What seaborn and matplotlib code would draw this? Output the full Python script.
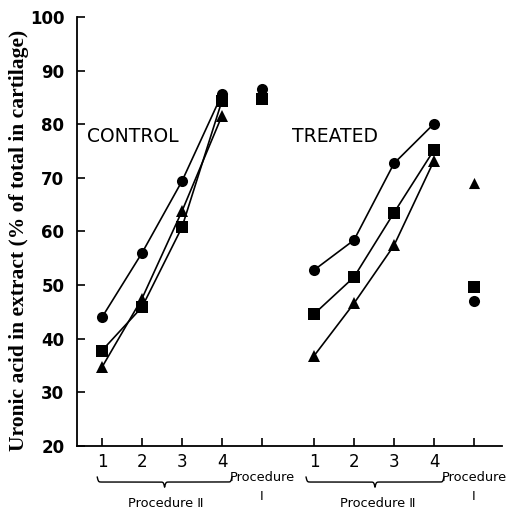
import numpy as np
import pandas as pd
import matplotlib
matplotlib.use("Agg")
import matplotlib.pyplot as plt
import seaborn as sns

# ---- data ----
steps = ["1", "2", "3", "4"]
control_pos = [1, 2, 3, 4]
treated_pos = [6.3, 7.3, 8.3, 9.3]
proc1_pos = [5.0, 10.3]

control_circle = [44.0, 56.0, 69.4, 85.6]
control_square = [37.8, 45.9, 60.8, 84.4]
control_triangle = [34.7, 47.5, 63.8, 81.6]
treated_circle = [52.8, 58.4, 72.7, 80.1]
treated_square = [44.6, 51.5, 63.5, 75.2]
treated_triangle = [36.8, 46.6, 57.4, 73.2]

proc1_control = {"circle": 86.5, "square": 84.8, "triangle": 85.5}
proc1_treated = {"circle": 47.1, "square": 49.6, "triangle": 69.1}

yticks = [20, 30, 40, 50, 60, 70, 80, 90, 100]

markers = {"circle": "o", "square": "s", "triangle": "^"}

rows = []
for grp, pos, ser in [("control", control_pos, {"circle": control_circle, "square": control_square, "triangle": control_triangle}),
                      ("treated", treated_pos, {"circle": treated_circle, "square": treated_square, "triangle": treated_triangle})]:
    for name, vals in ser.items():
        for p, v in zip(pos, vals):
            rows.append({"group": grp, "series": name, "x": p, "y": v})
df = pd.DataFrame(rows)

rows1 = []
for p, d in zip(proc1_pos, [proc1_control, proc1_treated]):
    for name, v in d.items():
        rows1.append({"series": name, "x": p, "y": v})
df1 = pd.DataFrame(rows1)

sns.set_style("white")
plt.rcParams["font.family"] = ["DejaVu Sans"]
for k in ["text.color", "axes.labelcolor", "xtick.color", "ytick.color", "axes.edgecolor"]:
    plt.rcParams[k] = "black"

fig = plt.figure(figsize=(5.10, 5.11), dpi=100)
ax = fig.add_axes([77/510, 1-446/511, (502-77)/510, (446-17)/511])

order = ["triangle", "square", "circle"]
for grp in ["control", "treated"]:
    for name in order:
        sub = df[(df.group == grp) & (df.series == name)]
        sns.lineplot(data=sub, x="x", y="y", ax=ax, color="black", lw=1.2,
                     marker=markers[name], markersize=8 if name != "triangle" else 8.5,
                     markeredgewidth=0, legend=False, zorder=3)
for name in order:
    sub = df1[df1.series == name]
    sns.scatterplot(data=sub, x="x", y="y", ax=ax, color="black", marker=markers[name],
                    s=64, linewidth=0, legend=False, zorder=3)

ax.set_xlim(0.375, 11.0)
ax.set_ylim(20, 100)
ax.set_xlabel("")
ax.set_ylabel("")
for s in ["top", "right"]:
    ax.spines[s].set_visible(False)
for s in ["left", "bottom"]:
    ax.spines[s].set_color("black")
    ax.spines[s].set_linewidth(1.3)

ax.set_yticks(yticks)
ax.set_yticklabels([str(t) for t in yticks], fontsize=12, fontweight="bold", color="black")
xt = control_pos + [proc1_pos[0]] + treated_pos + [proc1_pos[1]]
ax.set_xticks(xt)
ax.set_xticklabels(steps + [""] + steps + [""], fontsize=12, color="black")
ax.tick_params(axis="both", direction="in", length=6, width=1.2, color="black",
               bottom=True, left=True)
ax.tick_params(axis="y", pad=9)
ax.tick_params(axis="x", pad=5)

ax.text(0.63, 77.8, "CONTROL", fontsize=13.5, va="center", ha="left")
ax.text(5.75, 77.8, "TREATED", fontsize=13.5, va="center", ha="left")

# braces under Procedure II
def brace(x0, x1, ytop, h):
    n = 400
    t = np.linspace(0, 1, n // 2)
    beta = 120.0
    yh = 1 / (1 + np.exp(-beta * (t - t[0]))) + 1 / (1 + np.exp(-beta * (t - t[-1])))
    yy = np.concatenate([yh, yh[-2::-1]])
    xx = np.linspace(x0, x1, len(yy))
    yy = ytop - h * (yy - 0.5)
    ax.plot(xx, yy, color="black", lw=1.0, transform=ax.get_xaxis_transform(), clip_on=False)

brace(control_pos[0] - 0.12, control_pos[-1] + 0.25, -0.072, 0.024)
brace(treated_pos[0] - 0.2, treated_pos[-1] + 0.25, -0.072, 0.024)

tr = ax.get_xaxis_transform()
for p in [control_pos, treated_pos]:
    ax.text((p[0] + p[-1]) / 2 + 0.1, -0.134, "Procedure Ⅱ", transform=tr, ha="center", va="center", fontsize=9.3, clip_on=False)
for p in proc1_pos:
    ax.text(p, -0.074, "Procedure", transform=tr, ha="center", va="center", fontsize=9.3, clip_on=False)
    ax.text(p, -0.118, "Ⅰ", transform=tr, ha="center", va="center", fontsize=9.3, clip_on=False)

fig.text(19/510, 1-240/511, "Uronic acid in extract (% of total in cartilage)",
         rotation=90, ha="center", va="center", fontsize=15.5, fontweight="bold",
         family=["Liberation Serif", "DejaVu Serif"])

fig.savefig("out.png", dpi=100)
